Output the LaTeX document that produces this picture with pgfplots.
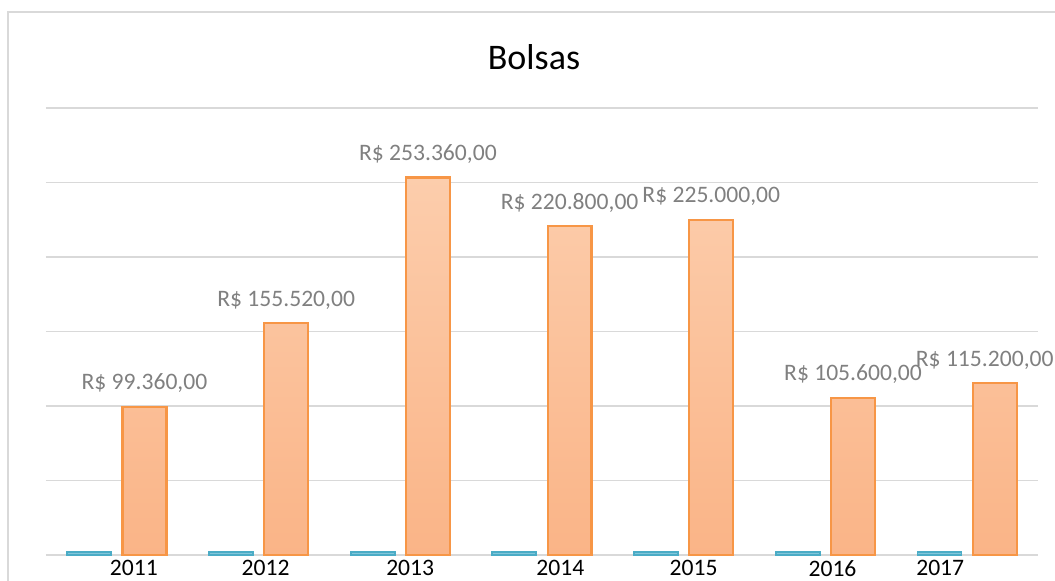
\documentclass[border=0pt]{standalone}
\usepackage{fontspec}
\setmainfont{Carlito}
\usepackage{pgfplots}
\pgfplotsset{compat=1.18}
\usepackage{pgfplotstable}
\definecolor{gridc}{RGB}{217,217,217}
\definecolor{orEdge}{RGB}{247,150,70}
\definecolor{orTop}{RGB}{252,205,172}
\definecolor{orBot}{RGB}{250,180,135}
\definecolor{blEdge}{RGB}{75,172,198}
\definecolor{blFill}{RGB}{130,198,218}
\definecolor{lab}{RGB}{128,128,128}
\pgfplotstableread{
x y dx
0 99360 0
1 155520 0
2 253360 0
3 220800 0
4 225000 0
5 105600 0
6 115200 -5
}\bolsas
\pgfplotstableread{
x y
0 2011
1 2012
2 2013
3 2014
4 2015
5 2016
6 2017
}\anos
\begin{document}
\begin{tikzpicture}
\useasboundingbox (0,0) rectangle (527.5pt,-290pt);
\draw[gridc, line width=0.7pt] (4pt,-6pt) rectangle (545pt,-300pt);
\node[anchor=base, font=\fontsize{18}{21}\selectfont] at (267pt,-34.5pt) {Bolsas};
\begin{axis}[
  at={(23pt,-277.5pt)}, anchor=south west,
  scale only axis, width=496pt, height=223.5pt,
  xmin=-0.5, xmax=6.5, ymin=0, ymax=300000,
  ytick={0,50000,...,300000}, yticklabels={}, scaled y ticks=false,
  ymajorgrids, grid style={gridc, line width=0.75pt},
  axis line style={draw=none}, tick style={draw=none},
  xtick={0.12,1.05,2.07,3.13,4.07,5.05,5.81},
  xticklabels={2011,2012,2013,2014,2015,2016,\raisebox{2pt}{2017}},
  xticklabel style={font=\fontsize{11.8}{14}\selectfont, text=black, yshift=1pt},
  clip=false,
]
\addplot[ybar, bar width=0.31, bar shift=-0.195, draw=blEdge, fill=blFill, line width=0.9pt]
  table[x=x, y=y] {\anos};
\addplot[ybar, bar width=0.31, bar shift=0.195, draw=orEdge, line width=1.1pt,
  top color=orTop, bottom color=orBot,
  visualization depends on={\thisrow{dx} \as \dx},
  nodes near coords={R\$ \pgfmathprintnumber[fixed,fixed zerofill,precision=2,use comma,assume math mode=true]{\pgfplotspointmeta}},
  every node near coord/.append style={font=\fontsize{11.8}{14}\selectfont, text=lab, anchor=base, yshift=8.5pt, xshift=\dx*1pt+13.8pt, inner sep=0pt},
  ]
  table[x=x, y=y] {\bolsas};
\end{axis}
\end{tikzpicture}
\end{document}
